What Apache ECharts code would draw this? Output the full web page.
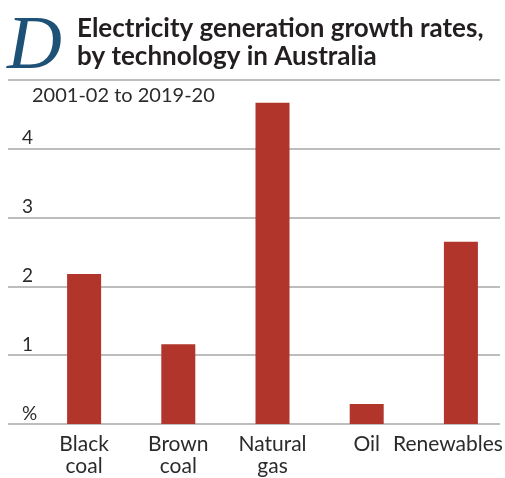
<!DOCTYPE html>
<html>
<head>
<meta charset="utf-8">
<script src="https://cdn.jsdelivr.net/npm/echarts@6/dist/echarts.min.js"></script>
<style>
  html, body { margin: 0; padding: 0; background: #fff; }
  #container { width: 505px; height: 478px; }
</style>
</head>
<body>
<div id="container"></div>
<script>
// data
var categories = ['Black\ncoal', 'Brown\ncoal', 'Natural\ngas', 'Oil', 'Renewables'];
var growthRates = [2.18, 1.16, 4.67, 0.29, 2.65];
var yTicks = { min: 0, max: 5, step: 1 };

var barColor = '#b1352a';
var gridColor = '#bdbdbd';
var textColor = '#2b2b2b';
var labelFont = 'Lato, "Noto Sans", sans-serif';

var chart = echarts.init(document.getElementById('container'));

// category labels, Renewables nudged left like the original
var xData = categories.map(function (c) {
    if (c === 'Renewables') {
        return { value: c, textStyle: { padding: [0, 26, 0, 0] } };
    }
    return c;
});

var option = {
    animation: false,
    backgroundColor: '#fff',
    graphic: [
        { type: 'text', left: 7, top: 10,
          style: { text: 'D', font: 'italic 76px "Liberation Serif", serif', fill: '#1d5175' } },
        { type: 'text', left: 77, top: 15,
          style: { text: 'Electricity generation growth rates,\nby technology in Australia',
                   font: 'bold 26px Lato, sans-serif', lineHeight: 28, fill: '#231f20' } },
        { type: 'text', left: 32, top: 86,
          style: { text: '2001-02 to 2019-20', font: '20px ' + labelFont, fill: textColor } }
    ],
    grid: [
        { left: 8, right: 5, top: 80, bottom: 54, outerBoundsMode: 'none' },
        { left: 37, width: 471, top: 80, bottom: 54, outerBoundsMode: 'none' }
    ],
    xAxis: [
        { type: 'category', gridIndex: 0, data: [''], show: false },
        { type: 'category', gridIndex: 1, data: xData,
          axisLine: { show: false }, axisTick: { show: false },
          axisLabel: { interval: 0, margin: 9, fontSize: 21, lineHeight: 22,
                       color: textColor, fontFamily: labelFont } }
    ],
    yAxis: [
        { type: 'value', gridIndex: 0, min: yTicks.min, max: yTicks.max, interval: yTicks.step,
          axisLine: { show: false }, axisTick: { show: false },
          splitLine: { lineStyle: { color: gridColor, width: 2 } },
          axisLabel: { inside: true, margin: 14, fontSize: 19, color: textColor,
                       fontFamily: labelFont, verticalAlign: 'bottom', padding: [0, 0, 1, 0],
                       formatter: function (v) {
                           if (v === 0) return '%';
                           if (v === yTicks.max) return '';
                           return v;
                       } } },
        { type: 'value', gridIndex: 1, min: yTicks.min, max: yTicks.max, show: false,
          splitLine: { show: false } }
    ],
    series: [
        { type: 'bar', xAxisIndex: 1, yAxisIndex: 1, data: growthRates,
          barWidth: 34, itemStyle: { color: barColor } }
    ]
};

chart.setOption(option);
</script>
</body>
</html>
